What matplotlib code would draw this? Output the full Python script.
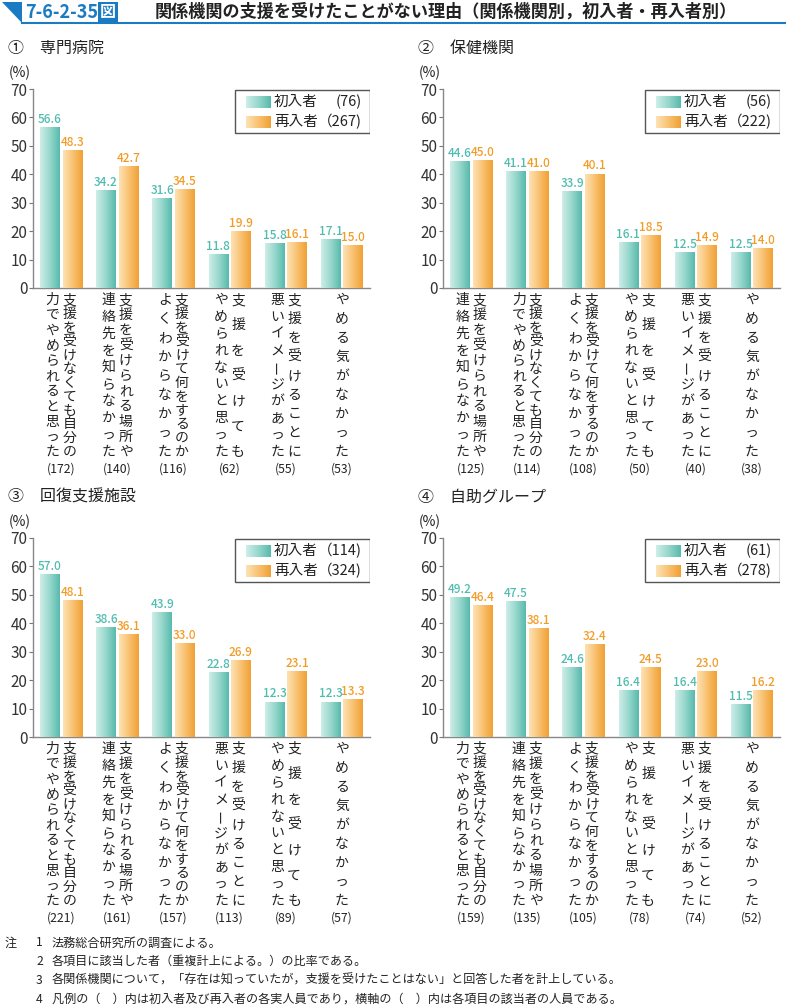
import numpy as np
import matplotlib.pyplot as plt
from matplotlib.colors import to_rgb
from matplotlib.patches import Polygon, Rectangle
from matplotlib.lines import Line2D

plt.rcParams['font.family'] = ['Noto Sans CJK JP', 'DejaVu Sans']

# category labels, as vertical columns (right column first)
C_SELF = ("支援を受けなくても自分の", "力でやめられると思った")
C_PLACE = ("支援を受けられる場所や", "連絡先を知らなかった")
C_WHAT = ("支援を受けて何をするのか", "よくわからなかった")
C_CANT = ("支援を受けても", "やめられないと思った")
C_IMAGE = ("支援を受けることに", "悪いイメージがあった")
C_NOWILL = ("やめる気がなかった",)

series_names = ["初入者", "再入者"]

p1_title = "①　専門病院"
p1_cats = [C_SELF, C_PLACE, C_WHAT, C_CANT, C_IMAGE, C_NOWILL]
p1_first = [56.6, 34.2, 31.6, 11.8, 15.8, 17.1]
p1_re = [48.3, 42.7, 34.5, 19.9, 16.1, 15.0]
p1_counts = [172, 140, 116, 62, 55, 53]
p1_legend_n = [76, 267]

p2_title = "②　保健機関"
p2_cats = [C_PLACE, C_SELF, C_WHAT, C_CANT, C_IMAGE, C_NOWILL]
p2_first = [44.6, 41.1, 33.9, 16.1, 12.5, 12.5]
p2_re = [45.0, 41.0, 40.1, 18.5, 14.9, 14.0]
p2_counts = [125, 114, 108, 50, 40, 38]
p2_legend_n = [56, 222]

p3_title = "③　回復支援施設"
p3_cats = [C_SELF, C_PLACE, C_WHAT, C_IMAGE, C_CANT, C_NOWILL]
p3_first = [57.0, 38.6, 43.9, 22.8, 12.3, 12.3]
p3_re = [48.1, 36.1, 33.0, 26.9, 23.1, 13.3]
p3_counts = [221, 161, 157, 113, 89, 57]
p3_legend_n = [114, 324]

p4_title = "④　自助グループ"
p4_cats = [C_SELF, C_PLACE, C_WHAT, C_CANT, C_IMAGE, C_NOWILL]
p4_first = [49.2, 47.5, 24.6, 16.4, 16.4, 11.5]
p4_re = [46.4, 38.1, 32.4, 24.5, 23.0, 16.2]
p4_counts = [159, 135, 105, 78, 74, 52]
p4_legend_n = [61, 278]

y_ticks = [0, 10, 20, 30, 40, 50, 60, 70]

fig_title_no = "7-6-2-35"
fig_title = "関係機関の支援を受けたことがない理由（関係機関別，初入者・再入者別）"
notes = [
    ("注", "1", "法務総合研究所の調査による。"),
    ("", "2", "各項目に該当した者（重複計上による。）の比率である。"),
    ("", "3", "各関係機関について，「存在は知っていたが，支援を受けたことはない」と回答した者を計上している。"),
    ("", "4", "凡例の（　）内は初入者及び再入者の各実人員であり，横軸の（　）内は各項目の該当者の人員である。"),
]

BLUE = "#1b7bc2"
TEAL_GRAD = ["#cdeee8", "#97d7cc", "#58b9ac"]
ORANGE_GRAD = ["#fde2b4", "#f9c272", "#f0a134"]
TEAL_TXT = "#4fbcb0"
ORANGE_TXT = "#f29b25"

W, H = 786, 1006
fig = plt.figure(figsize=(W / 100, H / 100), dpi=100)


def fx(px):
    return px / W


def fy(py):
    return 1 - py / H


def gradient(stops, n=64):
    cols = np.array([to_rgb(c) for c in stops])
    pos = np.linspace(0, 1, len(stops))
    t = np.linspace(0, 1, n)
    g = np.stack([np.interp(t, pos, cols[:, k]) for k in range(3)], axis=-1)
    return g[np.newaxis, :, :]


def draw_panel(box, title, cats, first, re, counts, legend_n):
    x0, y0, x1, y1 = box
    ax = fig.add_axes([fx(x0), fy(y1), fx(x1 - x0), (y1 - y0) / H])
    x = np.arange(len(cats))
    w = 0.345
    for vals, off, grad, tcol in [(first, -0.2, TEAL_GRAD, TEAL_TXT),
                                  (re, 0.2, ORANGE_GRAD, ORANGE_TXT)]:
        bars = ax.bar(x + off, vals, width=w, color=grad[1], edgecolor="none", zorder=2)
        for b, v in zip(bars, vals):
            bx = b.get_x()
            ax.imshow(gradient(grad), extent=[bx, bx + w, 0, v], aspect="auto",
                      zorder=3, interpolation="bilinear")
            ax.text(b.get_x() + w / 2, v + 1.6, f"{v:.1f}", ha="center", va="baseline",
                    color=tcol, fontsize=8.5, fontweight="medium", zorder=4)

    ax.set_xlim(-0.5, 5.5)
    ax.set_ylim(0, 70)
    ax.set_yticks(y_ticks)
    ax.set_xticks([])
    ax.tick_params(axis="y", length=3, width=0.8, color="#777", labelsize=11,
                   labelcolor="#333", pad=1)
    for s in ["top", "right"]:
        ax.spines[s].set_visible(False)
    for s in ["left", "bottom"]:
        ax.spines[s].set_color("#888")
        ax.spines[s].set_linewidth(1)

    # vertical category labels
    for xi, cols, n in zip(x, cats, counts):
        if len(cols) == 1:
            offs = [0]
        else:
            offs = [8.5, -8.5]
        for col, dx in zip(cols, offs):
            ys = np.linspace(12, 164, len(col))
            for ch, dy in zip(col, ys):
                rot = 90 if ch == "ー" else 0
                ax.annotate(ch, xy=(xi, 0), xycoords=("data", "axes fraction"),
                            xytext=(dx, -dy), textcoords="offset pixels",
                            ha="center", va="center", fontsize=10, color="#222",
                            rotation=rot, annotation_clip=False)
        ax.annotate(f"({n})", xy=(xi, 0), xycoords=("data", "axes fraction"),
                    xytext=(0, -181), textcoords="offset pixels",
                    ha="center", va="center", fontsize=8.8, color="#222",
                    annotation_clip=False)

    # legend box
    ax.add_patch(Rectangle((0.598, 0.78), 0.402, 0.215, transform=ax.transAxes,
                           fill=True, fc="white", ec="#555", lw=1, zorder=5))
    for k, (name, nn, grad) in enumerate(zip(series_names, legend_n,
                                             [TEAL_GRAD, ORANGE_GRAD])):
        yc = 0.936 - k * 0.1
        ax.imshow(gradient(grad), extent=[0.632, 0.705, yc - 0.03, yc + 0.03],
                  transform=ax.transAxes, aspect="auto", zorder=6)
        ax.text(0.715, yc, name, transform=ax.transAxes, ha="left", va="center",
                fontsize=10.5, color="#222", zorder=6)
        lab = f"({nn})" if nn < 100 else f"（{nn})"
        ax.text(0.975, yc, lab, transform=ax.transAxes, ha="right", va="center",
                fontsize=10.5, color="#222", zorder=6)
    ax.set_xlim(-0.5, 5.5)
    ax.set_ylim(0, 70)

    ax.annotate("(%)", xy=(0, 1), xycoords="axes fraction", xytext=(-13, 16),
                textcoords="offset pixels", ha="center", va="center",
                fontsize=10, color="#222", annotation_clip=False)
    fig.text(fx(x0 - 25), fy(y0 - 41), title, ha="left", va="center",
             fontsize=11.5, color="#222")


draw_panel((33, 89, 370, 288), p1_title, p1_cats, p1_first, p1_re, p1_counts, p1_legend_n)
draw_panel((443, 89, 780, 288), p2_title, p2_cats, p2_first, p2_re, p2_counts, p2_legend_n)
draw_panel((33, 538, 370, 737), p3_title, p3_cats, p3_first, p3_re, p3_counts, p3_legend_n)
draw_panel((443, 538, 780, 737), p4_title, p4_cats, p4_first, p4_re, p4_counts, p4_legend_n)

# title bar
fig.patches.append(Polygon([(fx(2), fy(2)), (fx(22), fy(2)), (fx(22), fy(23))],
                           closed=True, transform=fig.transFigure, fc=BLUE, ec="none"))
fig.lines.append(Line2D([fx(22), fx(786)], [fy(23), fy(23)], transform=fig.transFigure,
                        color=BLUE, lw=1.5))
t_no = fig.text(fx(25), fy(12), fig_title_no, ha="left", va="center", fontsize=13,
                fontweight="bold", color=BLUE)
fig.canvas.draw()
bb = t_no.get_window_extent()
fig.text(bb.x1 / W + fx(2), fy(12), "図", ha="left", va="center", fontsize=11.5,
         fontweight="bold", color="white",
         bbox=dict(boxstyle="square,pad=0.12", fc=BLUE, ec="none"))
fig.text(fx(155), fy(12), fig_title, ha="left", va="center", fontsize=12.3,
         fontweight="bold", color="#222")

# notes
for i, (a, b, c) in enumerate(notes):
    yy = fy(943 + i * 18.7)
    if a:
        fig.text(fx(5), yy, a, ha="left", va="center", fontsize=8.7, color="#222")
    fig.text(fx(36), yy, b, ha="left", va="center", fontsize=8.7, color="#222")
    fig.text(fx(52), yy, c, ha="left", va="center", fontsize=8.7, color="#222")

fig.savefig("out.png", dpi=100)
